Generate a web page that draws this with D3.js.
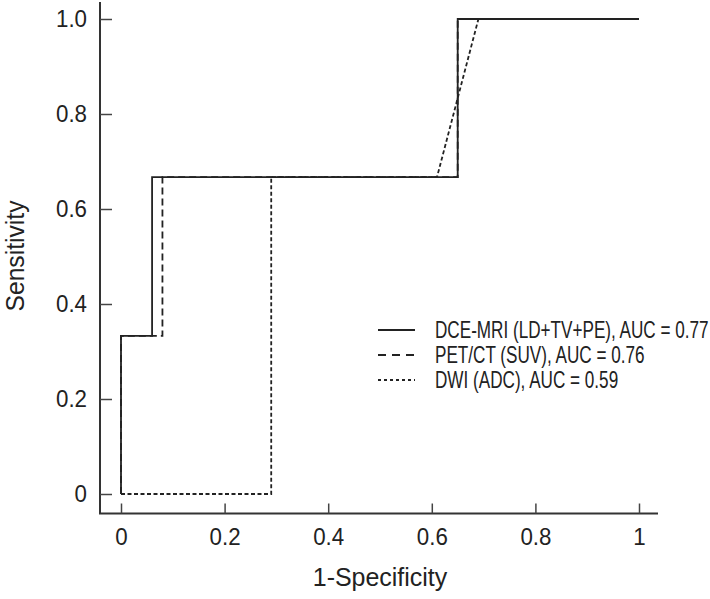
<!DOCTYPE html>
<html>
<head>
<meta charset="utf-8">
<script src="https://cdn.jsdelivr.net/npm/d3@7"></script>
<style>
  body { margin: 0; background: #fff; }
  svg text { font-family: "Liberation Sans", Arial, sans-serif; fill: #222; }
</style>
</head>
<body>
<svg id="chart" width="710" height="599"></svg>
<script>
// ROC curves
var seriesNames = ['DCE-MRI (LD+TV+PE), AUC = 0.77', 'PET/CT (SUV), AUC = 0.76', 'DWI (ADC), AUC = 0.59'];
var dceX = [0, 0, 0.06, 0.06, 0.65, 0.65, 1];
var dceY = [0, 0.333, 0.333, 0.667, 0.667, 1, 1];
var petX = [0, 0, 0.08, 0.08, 0.65, 0.65, 1];
var petY = [0, 0.333, 0.333, 0.667, 0.667, 1, 1];
var dwiX = [0, 0.29, 0.29, 0.61, 0.69, 1];
var dwiY = [0, 0, 0.667, 0.667, 1, 1];
var xTicks = [0, 0.2, 0.4, 0.6, 0.8, 1];
var xTickLabels = ['0', '0.2', '0.4', '0.6', '0.8', '1'];
var yTicks = [0, 0.2, 0.4, 0.6, 0.8, 1];
var yTickLabels = ['0', '0.2', '0.4', '0.6', '0.8', '1.0'];

var dashes = ['none', '7,4', '4,2.5'];
var ink = '#222';

// squeeze a text horizontally, the original font is a condensed one
function narrow(sel, f) {
  sel.each(function() {
    var t = d3.select(this);
    var tx = +t.attr('x') || 0, ty = +t.attr('y') || 0;
    var pre = t.attr('transform') || '';
    t.attr('x', 0).attr('y', 0)
      .attr('transform', pre + ' translate(' + tx + ',' + ty + ') scale(' + f + ',1)');
  });
}

var svg = d3.select('#chart');
var x = d3.scaleLinear().domain([0, 1]).range([121, 639]);
var y = d3.scaleLinear().domain([0, 1]).range([494, 19]);
var axisX = 100, axisY = 513.5;

// axis lines
svg.append('line')
  .attr('x1', axisX).attr('x2', axisX).attr('y1', 2).attr('y2', axisY)
  .attr('stroke', '#333').attr('stroke-width', 2);
svg.append('line')
  .attr('x1', axisX - 1).attr('x2', 658).attr('y1', axisY).attr('y2', axisY)
  .attr('stroke', '#333').attr('stroke-width', 2);

var gx = svg.append('g').attr('transform', 'translate(0,' + axisY + ')')
  .call(d3.axisBottom(x).tickValues(xTicks).tickSize(-10).tickPadding(14)
    .tickFormat(function(d, i) { return xTickLabels[i]; }));
var gy = svg.append('g').attr('transform', 'translate(' + axisX + ',0)')
  .call(d3.axisLeft(y).tickValues(yTicks).tickSize(-12).tickPadding(13)
    .tickFormat(function(d, i) { return yTickLabels[i]; }));

[gx, gy].forEach(function(g) {
  g.select('.domain').remove();
  g.attr('font-family', null).attr('font-size', null);
  g.selectAll('.tick line').attr('stroke', '#444').attr('stroke-width', 1.5);
  g.selectAll('.tick text').attr('font-size', 24).attr('fill', ink);
  narrow(g.selectAll('.tick text'), 0.93);
});

// axis titles
var xt = svg.append('text')
  .attr('x', 380).attr('y', 586)
  .attr('text-anchor', 'middle').attr('font-size', 26)
  .text('1-Specificity');
narrow(xt, 0.96);
var yt = svg.append('text')
  .attr('transform', 'translate(24,256) rotate(-90)')
  .attr('text-anchor', 'middle').attr('font-size', 26)
  .text('Sensitivity');
narrow(yt, 0.95);

// curves
var curves = [[dceX, dceY], [petX, petY], [dwiX, dwiY]];
var line = d3.line().x(function(d) { return x(d[0]); }).y(function(d) { return y(d[1]); });

// draw dotted and dashed first, solid on top
[2, 1, 0].forEach(function(k) {
  var pts = d3.zip(curves[k][0], curves[k][1]);
  svg.append('path')
    .attr('d', line(pts))
    .attr('fill', 'none')
    .attr('stroke', ink)
    .attr('stroke-width', 1.8)
    .attr('stroke-dasharray', dashes[k]);
});

// legend
var legend = svg.append('g').attr('transform', 'translate(378,330)');
seriesNames.forEach(function(name, i) {
  var row = legend.append('g').attr('transform', 'translate(0,' + (i * 25) + ')');
  row.append('line')
    .attr('x1', 0).attr('x2', 37).attr('y1', 0).attr('y2', 0)
    .attr('stroke', ink).attr('stroke-width', 1.8)
    .attr('stroke-dasharray', i === 1 ? '8,6' : i === 2 ? '3,3' : 'none');
  var t = row.append('text')
    .attr('x', 57).attr('y', 8)
    .attr('font-size', 23)
    .text(name);
  narrow(t, 0.745);
});
</script>
</body>
</html>
